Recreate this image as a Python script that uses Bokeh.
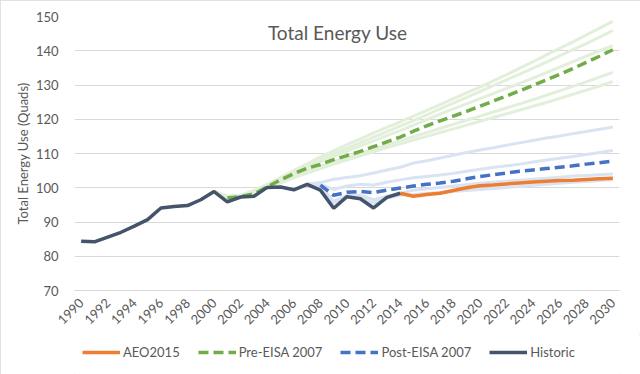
import math
from bokeh.plotting import figure
from bokeh.layouts import column
from bokeh.models import (Range1d, FixedTicker, Label, Legend, LegendItem)
from bokeh.embed import file_html
from bokeh.resources import INLINE

# ---------------- data ----------------
hist_years = list(range(1990, 2015))
historic = [84.4, 84.2, 85.6, 87.0, 88.8, 90.7, 94.1, 94.5, 94.8, 96.5, 98.9,
            95.9, 97.3, 97.5, 100.1, 100.2, 99.4, 101.0, 99.3, 94.0, 97.4,
            96.8, 94.1, 97.2, 98.4]

aeo_years = list(range(2014, 2031))
aeo2015 = [98.4, 97.5, 98.0, 98.4, 99.2, 100.0, 100.6, 100.8, 101.1, 101.4,
           101.7, 101.9, 102.1, 102.2, 102.4, 102.6, 102.8]

pre_years = list(range(2001, 2031))
pre_eisa = [97.0, 97.4, 98.2, 100.2, 102.3, 104.1, 105.7, 106.8, 108.2, 109.4,
            110.6, 112.0, 113.4, 114.8, 116.5, 118.1, 119.5, 120.9, 122.3,
            123.8, 125.3, 126.8, 128.3, 129.9, 131.5, 133.1, 134.8, 136.6,
            138.4, 140.3]

post_years = list(range(2008, 2031))
post_eisa = [100.8, 97.8, 98.7, 98.9, 98.6, 99.3, 99.9, 100.5, 101.0, 101.4,
             101.9, 102.6, 103.3, 103.8, 104.3, 104.8, 105.2, 105.6, 106.0,
             106.4, 106.9, 107.3, 107.8]

# light scenario lines around Pre-EISA 2007 (2000-2030)
pre_sc_years = list(range(2000, 2031))
pre_sc_1 = [98.9, 97.6, 97.8, 99.2, 101.0, 103.0, 105.0, 107.0, 109.0, 110.8,
            112.6, 114.3, 116.0, 117.6, 119.2, 120.9, 122.6, 124.3, 126.0,
            127.7, 129.4, 131.2, 133.0, 134.9, 136.8, 138.8, 140.7, 142.6,
            144.6, 146.6, 148.6]
pre_sc_2 = [98.9, 97.5, 97.7, 99.0, 100.8, 102.7, 104.6, 106.5, 108.3, 110.0,
            111.6, 113.2, 114.8, 116.4, 118.0, 119.6, 121.3, 123.0, 124.7,
            126.4, 128.1, 129.8, 131.5, 133.2, 134.9, 136.7, 138.5, 140.3,
            142.1, 144.0, 145.9]
pre_sc_3 = [98.9, 97.4, 97.6, 98.8, 100.5, 102.3, 104.1, 105.9, 107.6, 109.2,
            110.7, 112.2, 113.7, 115.2, 116.7, 118.3, 119.9, 121.5, 123.0,
            124.5, 126.0, 127.5, 129.0, 130.5, 132.0, 133.6, 135.2, 136.8,
            138.4, 140.0, 141.5]
pre_sc_4 = [98.9, 97.3, 97.5, 98.6, 100.2, 101.8, 103.4, 104.9, 106.3, 107.6,
            108.9, 110.1, 111.3, 112.5, 113.7, 114.9, 116.1, 117.3, 118.5,
            119.7, 120.9, 122.1, 123.3, 124.5, 125.7, 127.0, 128.3, 129.6,
            130.9, 132.3, 133.7]
pre_sc_5 = [98.9, 97.2, 97.4, 98.4, 99.9, 101.4, 102.9, 104.3, 105.6, 106.9,
            108.1, 109.3, 110.5, 111.7, 112.8, 113.9, 115.0, 116.1, 117.2,
            118.3, 119.4, 120.5, 121.6, 122.7, 123.8, 124.9, 126.1, 127.3,
            128.5, 129.7, 131.0]

# light scenario lines around Post-EISA 2007 (2007-2030)
post_sc_years = list(range(2007, 2031))
post_sc_1 = [101.0, 101.5, 102.5, 103.0, 103.5, 104.3, 105.2, 106.0, 107.2,
             107.9, 108.7, 109.5, 110.3, 111.0, 111.7, 112.4, 113.1, 113.8,
             114.5, 115.1, 115.8, 116.4, 117.1, 117.7]
post_sc_2 = [101.0, 101.0, 99.5, 100.5, 101.0, 100.8, 101.6, 102.3, 102.9,
             103.3, 103.7, 104.2, 104.8, 105.4, 105.9, 106.4, 106.9, 107.5,
             108.1, 108.6, 109.1, 109.7, 110.3, 110.9]
post_sc_3 = [101.0, 100.5, 96.0, 97.8, 97.8, 96.5, 97.5, 98.3, 99.3, 99.7,
             100.1, 100.5, 100.9, 101.3, 101.6, 101.9, 102.2, 102.5, 102.8,
             103.1, 103.4, 103.6, 103.8, 104.0]
post_sc_4 = [101.0, 100.0, 95.5, 97.5, 97.0, 95.5, 97.0, 97.8, 98.0, 98.3,
             98.6, 98.9, 99.2, 99.5, 99.8, 100.1, 100.4, 100.7, 101.0, 101.3,
             101.6, 101.8, 102.1, 102.3]

x_ticks = list(range(1990, 2031, 2))
y_ticks = [70, 80, 90, 100, 110, 120, 130, 140, 150]
legend_labels = ["AEO2015", "Pre-EISA 2007", "Post-EISA 2007", "Historic"]

# ---------------- styles ----------------
FONT = "Lato"
GREY = "#595959"
ORANGE = "#ED7D31"
GREEN = "#70AD47"
BLUE = "#4472C4"
NAVY = "#44546A"
LIGHT_GREEN = "#E2EFDA"
LIGHT_BLUE = "#DAE3F3"

p = figure(width=640, height=334, output_backend="svg",
           toolbar_location=None,
           x_range=Range1d(1989.5, 2030.5), y_range=Range1d(70, 150))
p.min_border_left = 74
p.min_border_right = 21
p.min_border_top = 16
p.min_border_bottom = 44
p.outline_line_color = None
p.background_fill_color = "white"
p.border_fill_color = "white"

p.xgrid.grid_line_color = None
p.ygrid.grid_line_color = "#d9d9d9"
p.ygrid.grid_line_width = 1
p.ygrid.ticker = FixedTicker(ticks=y_ticks)

p.xaxis.ticker = FixedTicker(ticks=x_ticks)
p.xaxis.major_label_orientation = math.pi / 4
p.xaxis.axis_line_color = "#d9d9d9"
p.xaxis.major_tick_line_color = None
p.xaxis.minor_tick_line_color = None
p.xaxis.major_label_text_font = FONT
p.xaxis.major_label_text_font_size = "13px"
p.xaxis.major_label_text_color = GREY
p.xaxis.major_label_standoff = 4

p.yaxis.ticker = FixedTicker(ticks=y_ticks)
p.yaxis.axis_line_color = None
p.yaxis.major_tick_line_color = None
p.yaxis.minor_tick_line_color = None
p.yaxis.major_label_text_font = FONT
p.yaxis.major_label_text_font_size = "13px"
p.yaxis.major_label_text_color = GREY
p.yaxis.major_label_standoff = 10
p.yaxis.axis_label = "Total Energy Use (Quads)"
p.yaxis.axis_label_text_font = FONT
p.yaxis.axis_label_text_font_size = "13px"
p.yaxis.axis_label_text_font_style = "normal"
p.yaxis.axis_label_text_color = GREY
p.yaxis.axis_label_standoff = 2

# light scenario lines
for ys in [pre_sc_1, pre_sc_2, pre_sc_3, pre_sc_4, pre_sc_5]:
    p.line(pre_sc_years, ys, line_color=LIGHT_GREEN, line_width=3)
for ys in [post_sc_1, post_sc_2, post_sc_3, post_sc_4]:
    p.line(post_sc_years, ys, line_color=LIGHT_BLUE, line_width=3)

series = [(aeo_years, aeo2015, dict(line_color=ORANGE, line_width=3.5)),
          (pre_years, pre_eisa, dict(line_color=GREEN, line_width=3.5,
                                     line_dash="10 5")),
          (post_years, post_eisa, dict(line_color=BLUE, line_width=3.5,
                                       line_dash="10 5")),
          (hist_years, historic, dict(line_color=NAVY, line_width=3.5))]

# draw order: dashed projections, then AEO2015, then Historic on top
for idx in [1, 2, 0, 3]:
    xs, ys, st = series[idx]
    p.line(xs, ys, **st)

title = Label(x=2009.3, y=145.4, text="Total Energy Use", text_font=FONT,
              text_font_size="19px", text_color=GREY, text_align="center",
              text_baseline="middle")
p.add_layout(title)

# ---------------- legend strip ----------------
lg = figure(width=640, height=40, output_backend="svg", toolbar_location=None,
            x_range=Range1d(0, 1), y_range=Range1d(0, 1))
lg.min_border = 0
lg.outline_line_color = None
lg.axis.visible = False
lg.grid.visible = False
lg.background_fill_color = "white"
lg.border_fill_color = "white"

items = []
for lab, (xs, ys, st) in zip(legend_labels, series):
    # same series, outside this strip's visible range: only the legend shows
    r = lg.line(xs, ys, **st)
    items.append(LegendItem(label=lab, renderers=[r]))

legend = Legend(items=items, orientation="horizontal", location=(8, 14))
legend.label_text_font = FONT
legend.label_text_font_size = "13px"
legend.label_text_color = GREY
legend.glyph_width = 38
legend.glyph_height = 14
legend.label_standoff = 3
legend.spacing = 18
legend.padding = 0
legend.margin = 0
legend.border_line_color = None
legend.background_fill_alpha = 0
lg.add_layout(legend, "center")

layout = column(p, lg, spacing=0)
layout.styles = {"outline": "1px solid #d9d9d9", "outline-offset": "-1px"}

open("out.html", "w").write(file_html(layout, INLINE))
